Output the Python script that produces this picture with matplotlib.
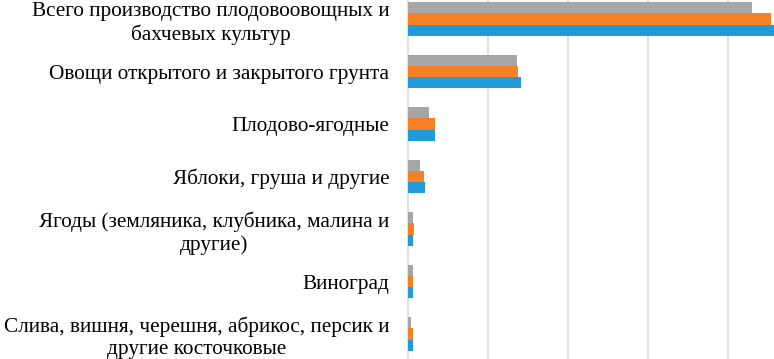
import matplotlib.pyplot as plt
import numpy as np

# ── данные (масштаб оценён по сетке: шаг сетки = 5) ──
categories = [
    'Всего производство плодовоовощных и\nбахчевых культур',
    'Овощи открытого и закрытого грунта',
    'Плодово-ягодные',
    'Яблоки, груша и другие',
    'Ягоды (земляника, клубника, малина и\nдругие)',
    'Виноград',
    'Слива, вишня, черешня, абрикос, персик и\nдругие косточковые',
]
series_gray = [21.5, 6.8, 1.31, 0.75, 0.29, 0.29, 0.21]
series_orange = [22.7, 6.85, 1.67, 1.0, 0.35, 0.31, 0.31]
series_blue = [23.0, 7.04, 1.71, 1.08, 0.33, 0.33, 0.31]
grid_ticks = [5, 10, 15, 20]

plt.rcParams['font.family'] = ['Liberation Serif', 'DejaVu Serif']

fig = plt.figure(figsize=(7.74, 3.59), dpi=100)
ax = fig.add_axes([408 / 774, 0, 1 - 408 / 774, 1])

y = np.arange(len(categories))
h = 0.21
ax.barh(y - h, series_gray, height=h, color='#a6a6a6', zorder=3)
ax.barh(y, series_orange, height=h, color='#f58025', zorder=3)
ax.barh(y + h, series_blue, height=h, color='#1f9bdc', zorder=3)

ax.set_xlim(0, (774 - 408) / 80 * 5)
ax.set_ylim(6.476, -0.362)

ax.set_xticks(grid_ticks)
ax.set_xticklabels([])
ax.tick_params(axis='x', length=0)
ax.grid(axis='x', color='#d9d9d9', linewidth=1.2, zorder=0)

ax.set_yticks(y)
ax.set_yticklabels(categories, fontsize=15.3, multialignment='center', linespacing=1.22)
ax.tick_params(axis='y', length=0, pad=13.5)

for side in ['top', 'right', 'bottom']:
    ax.spines[side].set_visible(False)
ax.spines['left'].set_color('#d9d9d9')
ax.spines['left'].set_linewidth(1.2)

fig.savefig('out.png', dpi=100)
